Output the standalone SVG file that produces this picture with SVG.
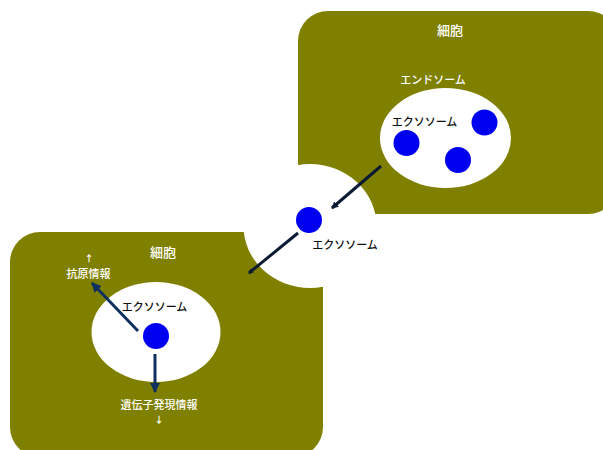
<svg xmlns="http://www.w3.org/2000/svg" width="603" height="450" viewBox="0 0 603 450">
<style>
.cell{fill:#808000}
.hole{fill:#fff}
.dot{fill:#0000f0}
text{font-family:"Noto Sans CJK JP","Noto Sans",sans-serif;font-size:11px;font-weight:500;text-anchor:middle}
.w{fill:#fff}
.k{fill:#111}
.big{font-size:13px}
.tick{font-size:9px;font-weight:700}
.link{stroke-width:3;fill:none}
</style>
<defs>
<marker id="navy" markerUnits="userSpaceOnUse" markerWidth="11" markerHeight="10" refX="9" refY="5" orient="auto"><path d="M0 0L10 5L0 10Z" fill="#10305f"/></marker>
<marker id="dark" markerUnits="userSpaceOnUse" markerWidth="8" markerHeight="8" refX="6" refY="4" orient="auto"><path d="M0 0.500L7 4L0 7.500Z" fill="#0b1a33"/></marker>
<marker id="tip" markerUnits="userSpaceOnUse" markerWidth="6" markerHeight="6" refX="4" refY="3" orient="auto"><path d="M0 0.500L5 3L0 5.500Z" fill="#0b1a33"/></marker>
</defs>
<g id="cell-upper">
<rect class="cell" x="298" y="11" width="320" height="203" rx="30"/>
<text class="w big" x="450" y="35">細胞</text>
<text class="w" x="433" y="83.500">エンドソーム</text>
</g>
<g id="cell-lower">
<rect class="cell" x="10" y="232" width="313" height="225" rx="30"/>
<text class="w big" x="163" y="257">細胞</text>
</g>
<g id="passage"><ellipse class="hole" cx="310" cy="226" rx="66.500" ry="62"/></g>
<g id="endosome">
<ellipse class="hole" cx="445.500" cy="138" rx="65.500" ry="50"/>
<text class="k" x="424.500" y="126">エクソソーム</text>
<circle class="dot" cx="406.500" cy="143" r="13"/>
<circle class="dot" cx="484.500" cy="122.500" r="13"/>
<circle class="dot" cx="458" cy="160" r="13"/>
</g>
<g id="exosome-free">
<circle class="dot" cx="309" cy="220" r="13"/>
<text class="k" x="345" y="249">エクソソーム</text>
</g>
<g id="recipient-vesicle">
<ellipse class="hole" cx="156" cy="332" rx="64.500" ry="50"/>
<text class="k" x="154.500" y="311">エクソソーム</text>
<circle class="dot" cx="156" cy="336" r="13"/>
</g>
<g id="labels">
<text class="w tick" x="89" y="261.500">↑</text>
<text class="w" x="88.500" y="277.500">抗原情報</text>
<text class="w" x="159" y="409">遺伝子発現情報</text>
<text class="w tick" x="159" y="423">↓</text>
</g>
<g id="connectors">
<path class="link" stroke="#0b1a33" d="M381 166L332 208" marker-end="url(#dark)"/>
<path class="link" stroke="#0b1a33" d="M298 233L249 273" marker-end="url(#tip)"/>
<path class="link" stroke="#10305f" d="M138 331L92 283" marker-end="url(#navy)"/>
<path class="link" stroke="#10305f" d="M155 354L155 392" marker-end="url(#navy)"/>
</g>
</svg>
